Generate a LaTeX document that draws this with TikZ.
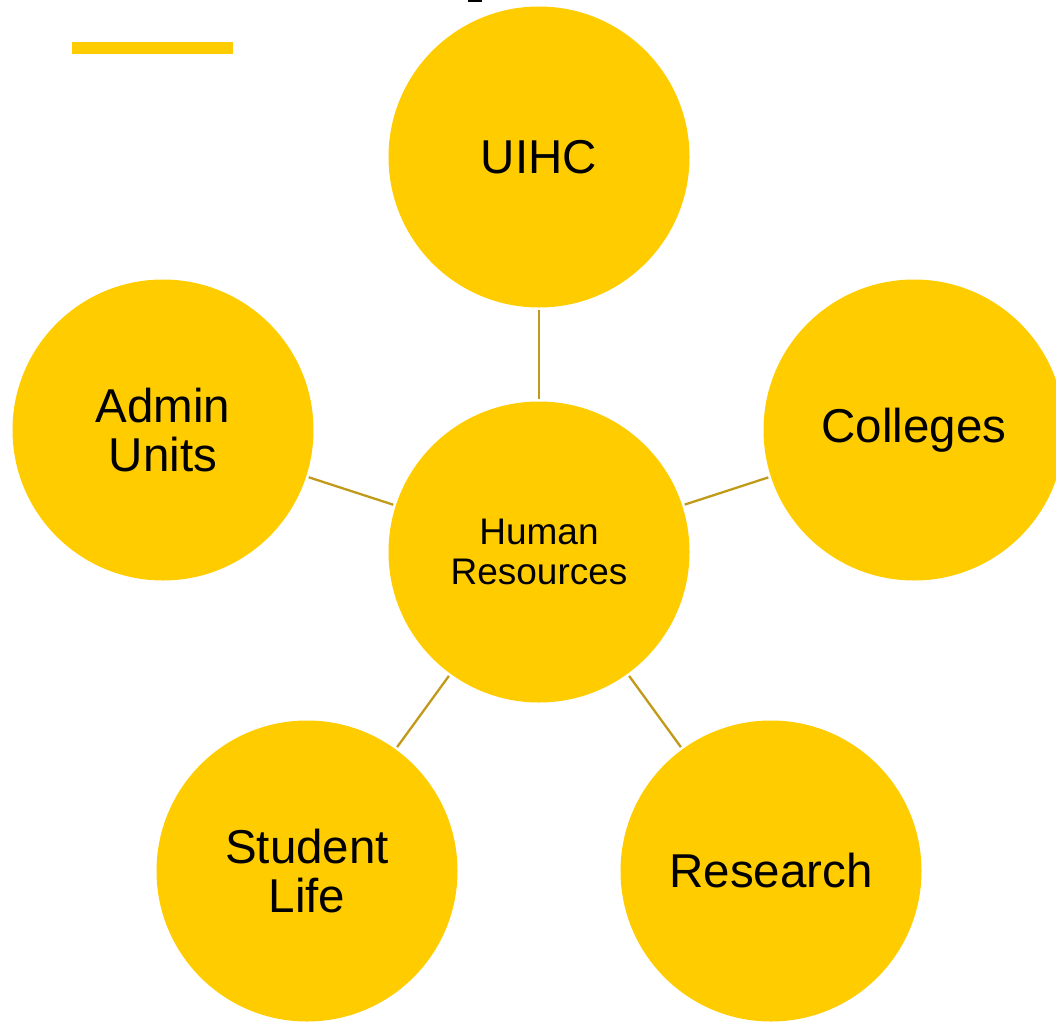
\documentclass[tikz,border=0pt]{standalone}
\usepackage{fontspec}
\setmainfont{Liberation Sans}
\definecolor{uiyellow}{RGB}{255,204,0}
\definecolor{connline}{RGB}{192,154,24}
\begin{document}
\begin{tikzpicture}[x=1pt,y=-1pt,
  bubble/.style={circle,fill=uiyellow,minimum size=301pt,inner sep=0pt,align=center,
    font=\fontsize{47.5}{49}\selectfont},
  hub/.style={bubble,font=\fontsize{37}{39.5}\selectfont},
  conn/.style={draw=connline,line width=2.3pt,shorten >=2.5pt,shorten <=2.5pt}]
\useasboundingbox (0,0) rectangle (1056,1022);
\clip (0,0) rectangle (1056,1022);
\fill[uiyellow] (72,42) rectangle (233,54);
\fill[black] (468,0) rectangle (482,2);
\node[hub] (hr) at (539,552) {Human\\Resources};
\node[bubble] (uihc) at (539,157) {UIHC};
\node[bubble] (admin) at (163,430) {Admin\\Units};
\node[bubble] (coll) at (914,430) {Colleges};
\node[bubble] (stud) at (307,871) {Student\\Life};
\node[bubble] (res) at (771,871) {Research};
\draw[conn] (hr) -- (uihc);
\draw[conn] (hr) -- (admin);
\draw[conn] (hr) -- (coll);
\draw[conn] (hr) -- (stud);
\draw[conn] (hr) -- (res);
\end{tikzpicture}
\end{document}
